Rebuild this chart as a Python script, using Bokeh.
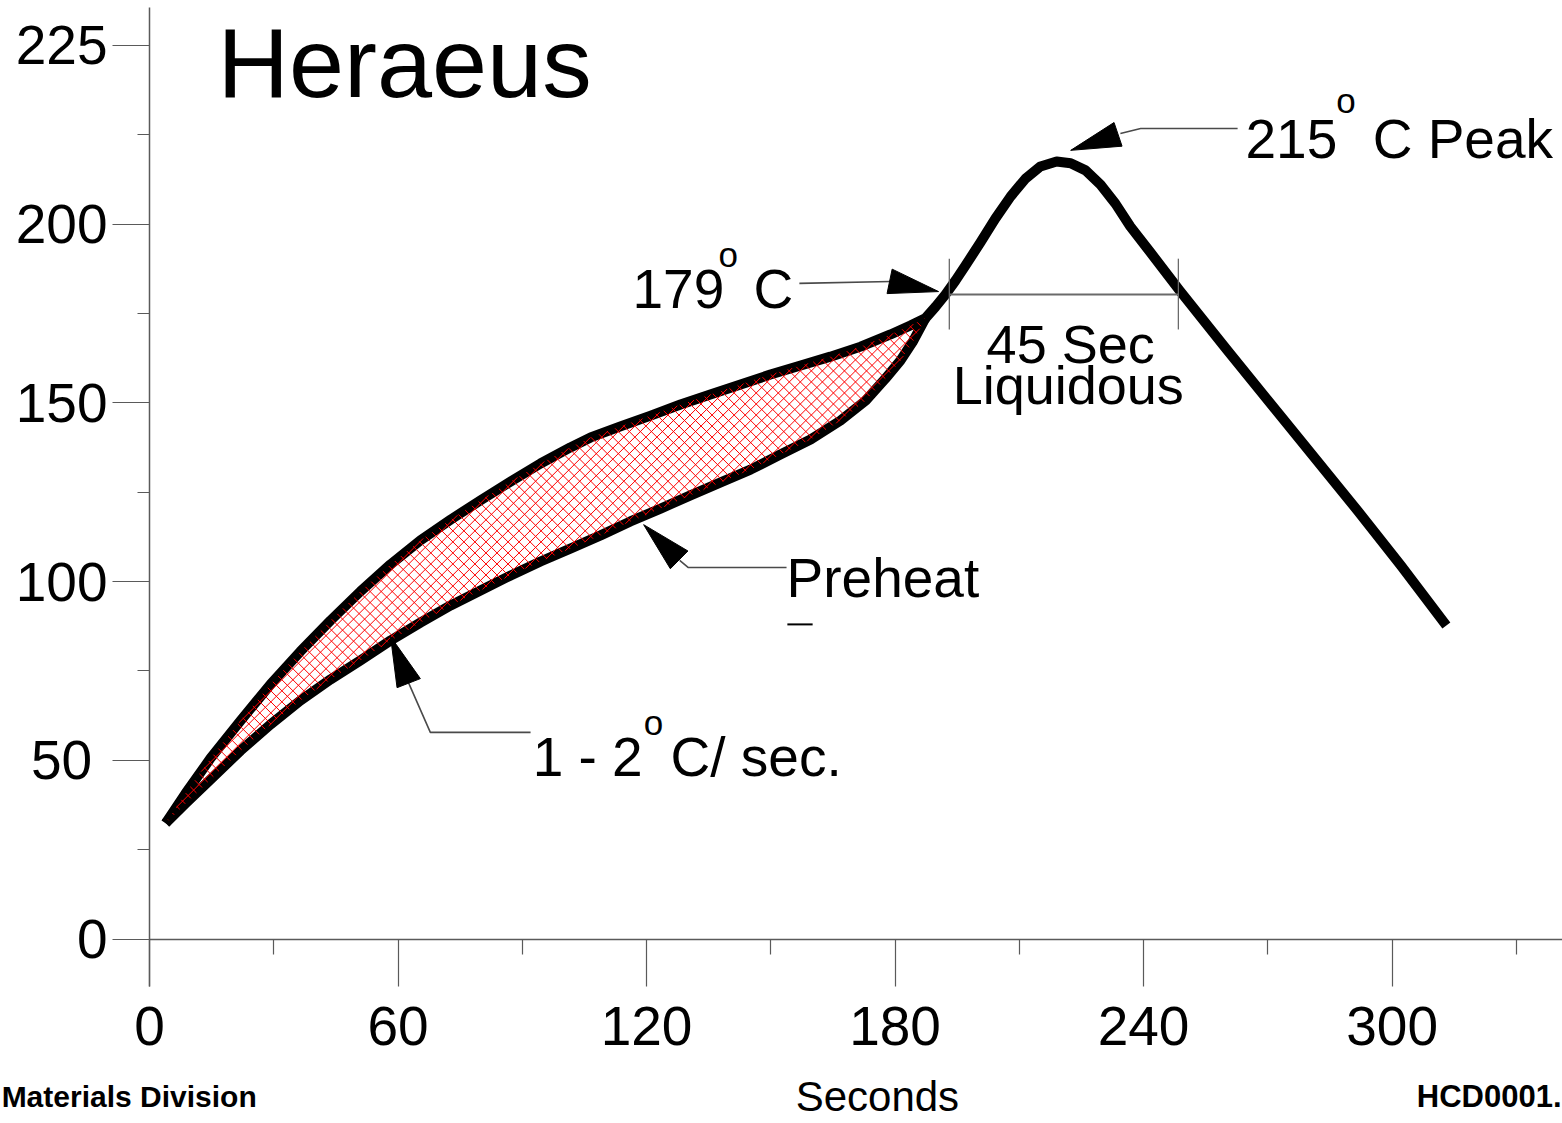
from bokeh.plotting import figure
from bokeh.models import Range1d, FixedTicker, Label
from bokeh.embed import file_html
from bokeh.resources import INLINE
import math

# ---------------- data (seconds, deg C) ----------------
profile_t = [3.9, 8.7, 14.7, 22.0, 29.2, 36.4, 43.7, 50.9, 58.2, 65.4, 72.7, 79.9,
             87.2, 94.4, 101.6, 106.5, 113.7, 121.0, 128.2, 135.4, 142.7, 149.9,
             157.2, 164.4, 171.7, 178.9, 183.7, 187.3,
             189.8, 192.2, 194.6, 197.0, 200.6, 204.2, 207.9, 211.5, 215.1, 219.0,
             222.4, 226.0, 229.6, 233.2, 236.8, 241.7, 248.7, 260.0, 274.7, 291.9,
             302.1, 313.1]
profile_temp = [32.4, 40.7, 50.5, 61.1, 71.2, 80.4, 89.1, 97.2, 104.8, 111.5, 117.3, 122.7,
                128.0, 133.0, 137.5, 140.3, 143.4, 146.4, 149.5, 152.3, 155.1, 157.9,
                160.4, 162.9, 165.7, 169.1, 171.6, 173.6,
                176.9, 180.3, 184.2, 188.4, 194.8, 201.5, 207.7, 212.7, 216.1, 217.5,
                217.0, 215.0, 211.0, 205.7, 199.3, 192.0, 181.4, 165.0, 144.0, 119.5,
                104.5, 87.7]
lower_t = [3.9, 8.7, 14.7, 22.0, 29.2, 36.4, 43.7, 50.9, 58.2, 65.4, 72.7, 79.9,
           87.2, 94.4, 101.6, 108.9, 116.1, 123.4, 130.6, 137.9, 145.1, 152.3,
           159.6, 166.8, 172.9, 177.7, 181.3, 184.2, 187.3]
lower_temp = [32.4, 37.9, 44.6, 52.7, 60.0, 66.7, 72.6, 77.9, 83.5, 88.5, 93.3, 97.5,
              101.7, 105.6, 109.2, 112.9, 116.8, 120.4, 124.1, 127.7, 131.3, 135.5,
              139.7, 145.0, 150.6, 156.8, 161.8, 166.9, 173.6]

x_ticks = [0, 60, 120, 180, 240, 300]
x_minor = [30, 90, 150, 210, 270, 330]
y_ticks = [0, 50, 100, 150, 200, 250]
y_minor = [25, 75, 125, 175, 225]
y_tick_labels = {0: "0", 50: "50\u00a0", 100: "100", 150: "150", 200: "200", 250: "225"}

liquidus_start, liquidus_end, liquidus_temp = 193.1, 248.4, 180.3

# ---------------- layout ----------------
W, H = 1562, 1123
X0_PX, Y0_PX = 149, 938.5          # pixel position of the origin
SX, SY = 4.142, 3.575              # pixels per second / per degree
XMIN, XMAX = -X0_PX / SX, (W - X0_PX) / SX
YMIN, YMAX = -(H - Y0_PX) / SY, Y0_PX / SY
FONT = "Liberation Sans"

p = figure(width=W, height=H, x_range=Range1d(XMIN, XMAX), y_range=Range1d(YMIN, YMAX),
           output_backend="svg", toolbar_location=None,
           min_border_left=0, min_border_right=0, min_border_top=0, min_border_bottom=0)
p.outline_line_color = None
p.grid.visible = False
p.background_fill_color = "white"
p.border_fill_color = "white"

ax_col = "#5a5a5a"
xa = p.xaxis[0]
xa.fixed_location = 0
xa.bounds = (0, XMAX)
xa.ticker = FixedTicker(ticks=x_ticks, minor_ticks=x_minor)
xa.axis_line_color = ax_col
xa.axis_line_width = 1.5
xa.major_tick_line_color = ax_col
xa.minor_tick_line_color = ax_col
xa.major_tick_line_width = 1.2
xa.minor_tick_line_width = 1.2
xa.major_tick_in = 0
xa.major_tick_out = 47
xa.minor_tick_in = 0
xa.minor_tick_out = 15
xa.major_label_standoff = 21
xa.major_label_text_font = FONT
xa.major_label_text_font_size = "55px"
xa.major_label_text_color = "black"

ya = p.yaxis[0]
ya.fixed_location = 0
ya.bounds = (-13.3, 260.6)
ya.ticker = FixedTicker(ticks=y_ticks, minor_ticks=y_minor)
ya.major_label_overrides = y_tick_labels
ya.axis_line_color = ax_col
ya.axis_line_width = 1.5
ya.major_tick_line_color = ax_col
ya.minor_tick_line_color = ax_col
ya.major_tick_line_width = 1.2
ya.minor_tick_line_width = 1.2
ya.major_tick_in = 0
ya.major_tick_out = 37
ya.minor_tick_in = 0
ya.minor_tick_out = 12
ya.major_label_standoff = 5
ya.major_label_text_font = FONT
ya.major_label_text_font_size = "55px"
ya.major_label_text_color = "black"

# ---------------- curves ----------------
n_merge = profile_t.index(lower_t[-1]) + 1
band_x = profile_t[:n_merge] + lower_t[::-1]
band_y = profile_temp[:n_merge] + lower_temp[::-1]


def hatch_segments(xs, ys, spacing_px=7.8):
    qx = [x * SX for x in xs]
    qy = [y * SY for y in ys]
    n = len(qx)
    sx_out, sy_out = [], []
    step = spacing_px * math.sqrt(2)
    for s in (1, -1):
        f = [a + s * b for a, b in zip(qx, qy)]
        c = math.floor(min(f) / step) * step + step / 2
        while c < max(f):
            pts = []
            for i in range(n):
                j = (i + 1) % n
                fa, fb = f[i] - c, f[j] - c
                if (fa < 0) != (fb < 0):
                    t = fa / (fa - fb)
                    pts.append((qx[i] + t * (qx[j] - qx[i]), qy[i] + t * (qy[j] - qy[i])))
            pts.sort()
            for k in range(0, len(pts) - 1, 2):
                sx_out.append([pts[k][0] / SX, pts[k + 1][0] / SX])
                sy_out.append([pts[k][1] / SY, pts[k + 1][1] / SY])
            c += step
    return sx_out, sy_out


p.line(profile_t, profile_temp, line_color="black", line_width=10, line_join="round")
p.line(lower_t, lower_temp, line_color="black", line_width=10, line_join="round")
hx, hy = hatch_segments(band_x, band_y)
p.multi_line(hx, hy, line_color="#ff0000", line_width=1)

# ---------------- annotations ----------------
lead_col = "#4a4a4a"


def arrow_head(tail, tip, length=50, half=12.5):
    dx = (tip[0] - tail[0]) * SX
    dy = (tip[1] - tail[1]) * SY
    d = math.hypot(dx, dy)
    ux, uy = dx / d, dy / d
    bx = tip[0] * SX - ux * length
    by = tip[1] * SY - uy * length
    px_, py_ = -uy, ux
    xs = [tip[0], (bx + px_ * half) / SX, (bx - px_ * half) / SX]
    ys = [tip[1], (by + py_ * half) / SY, (by - py_ * half) / SY]
    p.patch(xs, ys, fill_color="black", line_color="black", line_width=1)


def leader(xs, ys, tip):
    p.line(xs, ys, line_color=lead_col, line_width=1.6)
    arrow_head((xs[-1], ys[-1]), tip)


def label(x, y, text, size, bold=False, align="left"):
    # y is the baseline; compensate the renderer's baseline placement
    y_adj = y + 0.385 * size / SY
    p.add_layout(Label(x=x, y=y_adj, text=text, text_font=FONT, text_font_size=f"{size}px",
                       text_font_style="bold" if bold else "normal", text_color="black",
                       text_align=align, text_baseline="alphabetic"))


# Heraeus logo text
label(16.4, 234.5, "Heraeus", 99)

# peak
leader([262.7, 239.3, 234.4], [226.7, 226.7, 225.3], (222.4, 220.6))
label(264.6, 217.8, "215", 55)
label(286.5, 230.9, "o", 35)
label(295.3, 217.8, "C Peak", 55)

# 179 C
leader([156.9, 178.9], [183.4, 183.9], (190.5, 181.1))
label(116.6, 175.8, "179", 55)
label(137.4, 187.8, "o", 35)
label(145.8, 175.8, "C", 55)

# liquidus dimension
p.line([liquidus_start, liquidus_end], [liquidus_temp, liquidus_temp], line_color="#6a6a6a", line_width=2)
for xv in (liquidus_start, liquidus_end):
    p.line([xv, xv], [170.5, 190.3], line_color="#6a6a6a", line_width=1.3)
label(202.1, 160.7, "45 Sec", 54)
label(193.9, 149.2, "Liquidous", 54)

# preheat
leader([153.8, 130.1, 128.0], [103.9, 103.9, 105.9], (119.3, 115.9))
label(153.8, 95.0, "Preheat", 55)
p.line([154.0, 160.1], [88.0, 88.0], line_color="black", line_width=2)

# ramp rate
leader([92.0, 67.8, 62.5], [57.8, 57.8, 71.8], (58.2, 84.6))
label(92.5, 44.9, "1 - 2", 55)
label(119.3, 56.9, "o", 35)
label(125.8, 44.9, "C/ sec.", 55)

# footer
label(-35.7, -47.4, "Materials Division", 30, bold=True)
label(340.9, -47.4, "HCD0001.", 31, bold=True, align="right")
label(156.0, -48.5, "Seconds", 42)

open("out.html", "w").write(file_html(p, INLINE))
